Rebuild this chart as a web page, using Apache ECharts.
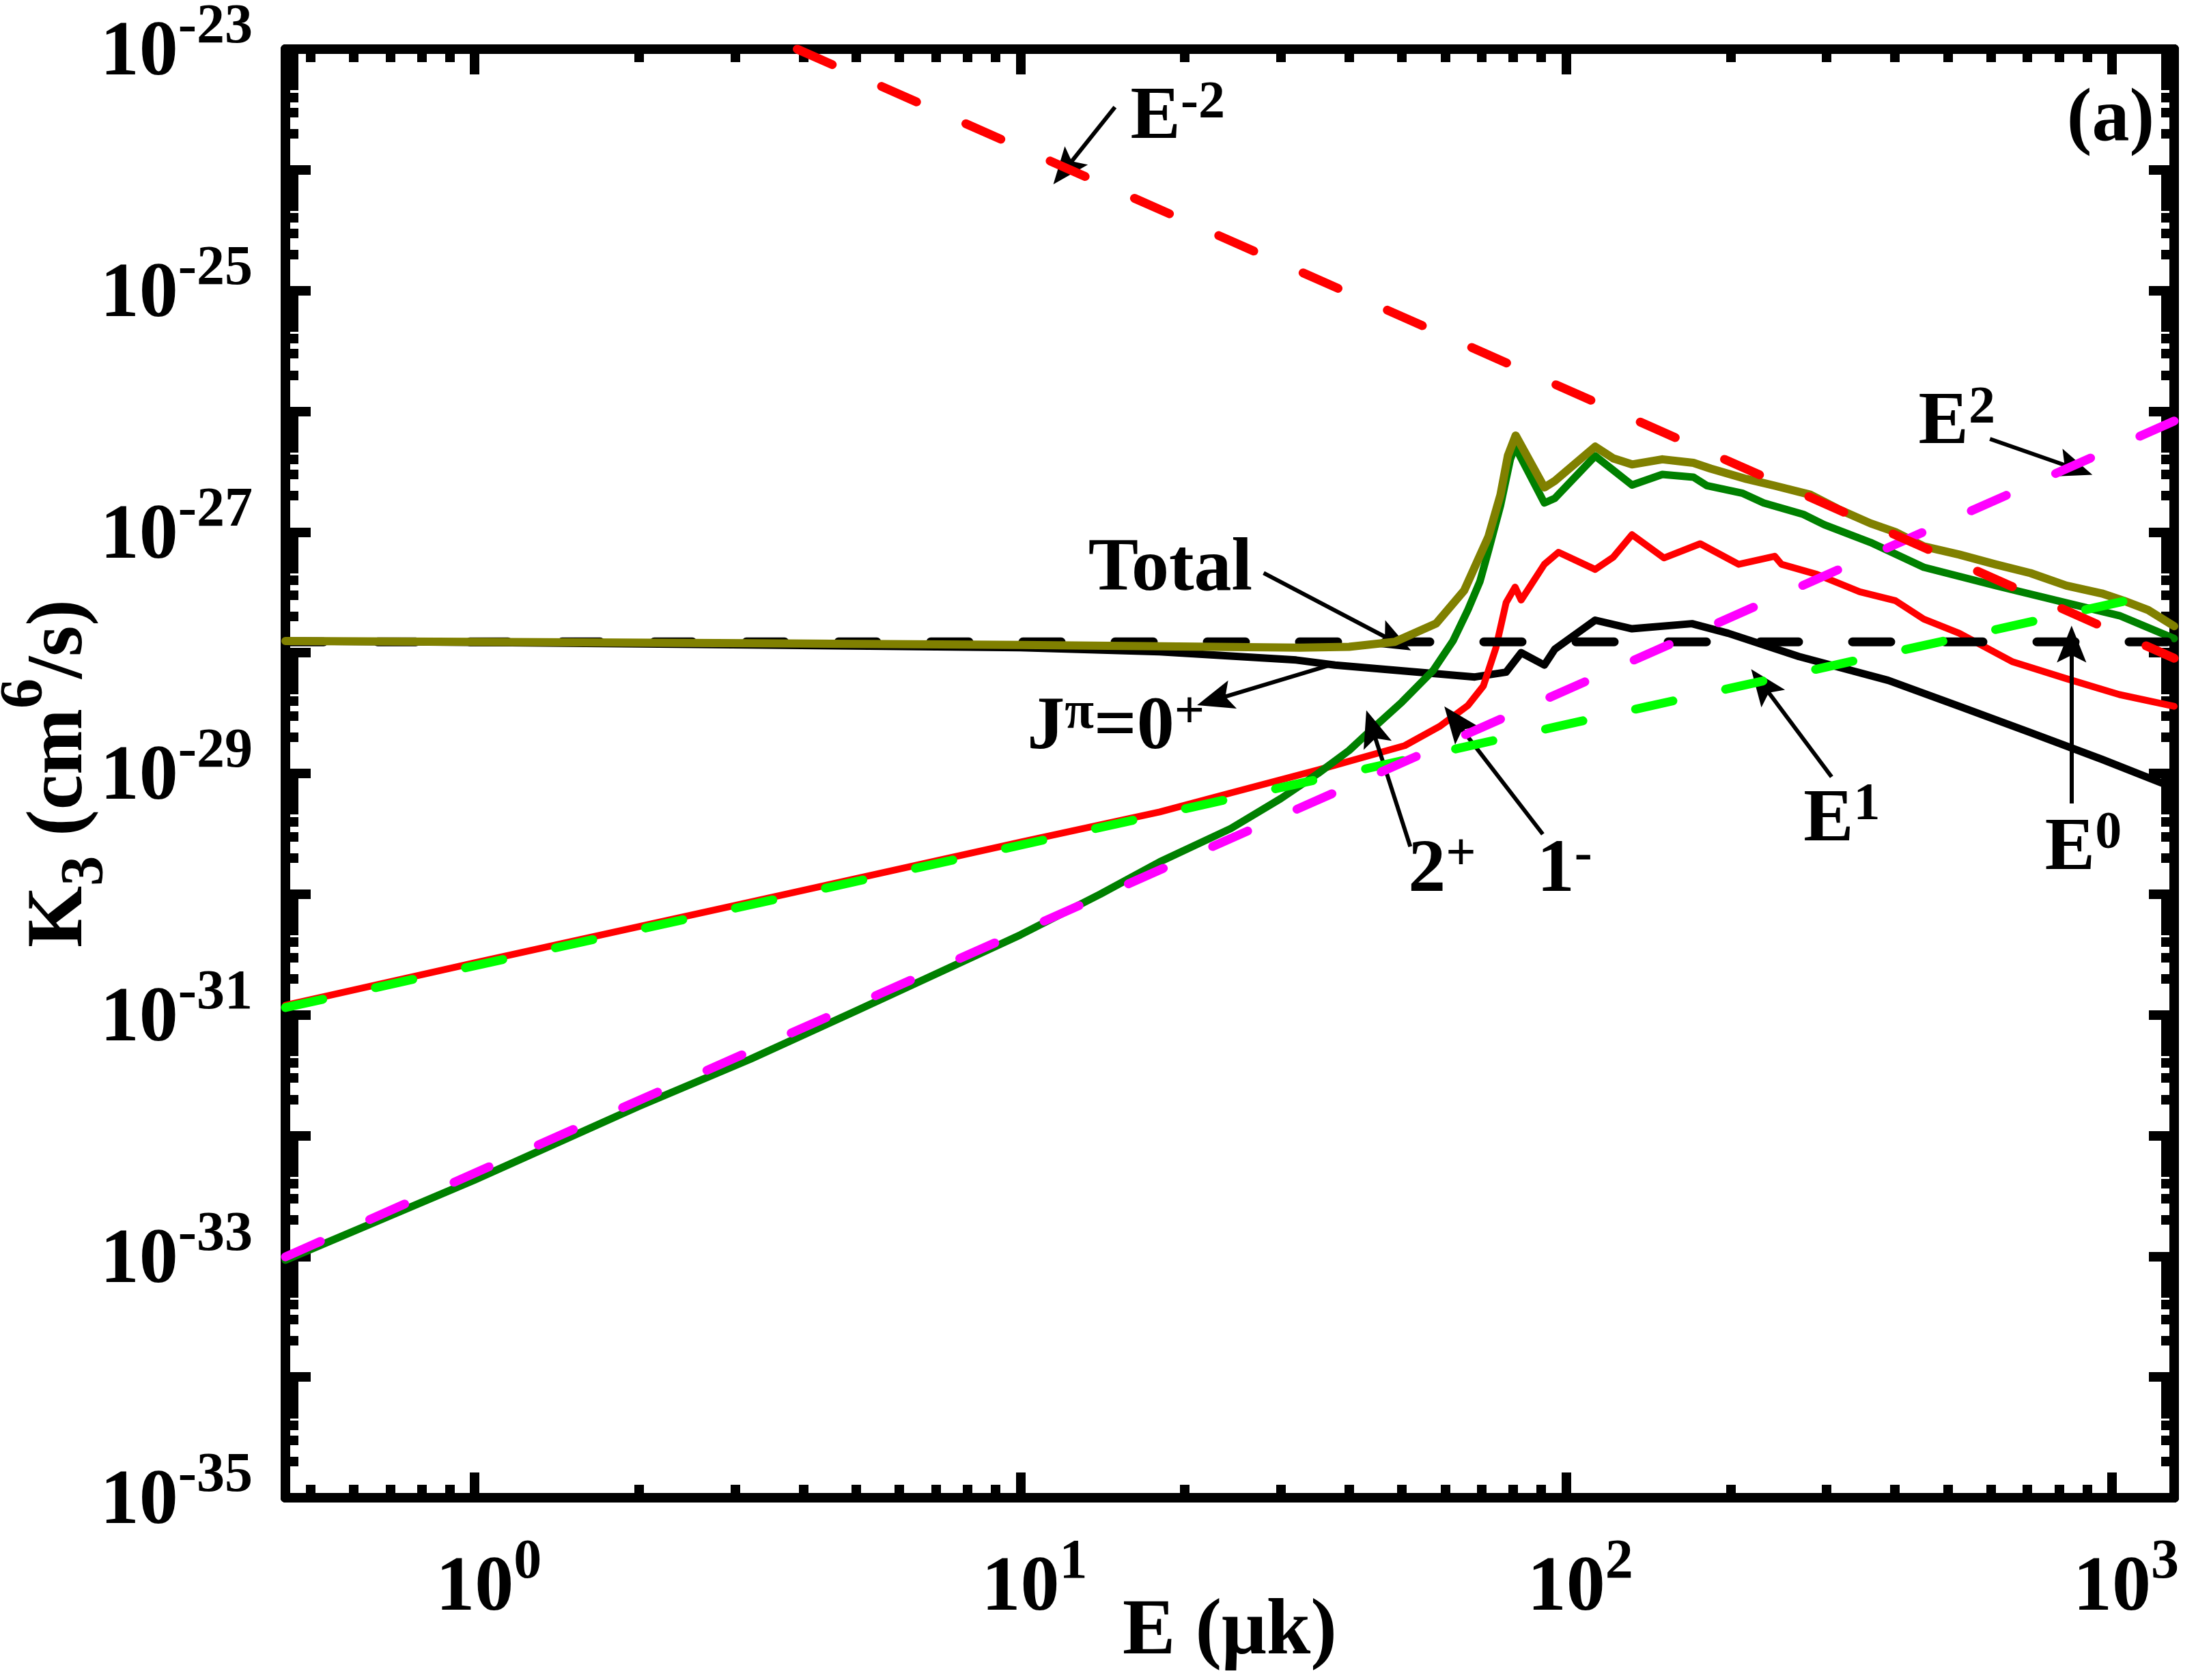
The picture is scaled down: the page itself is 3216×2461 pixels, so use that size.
<!DOCTYPE html>
<html>
<head>
<meta charset="utf-8">
<style>
  html, body { margin: 0; padding: 0; background: #fff; }
  #chart { width: 3216px; height: 2461px; }
</style>
</head>
<body>
<div id="chart"></div>
<script src="https://cdn.jsdelivr.net/npm/echarts@6/dist/echarts.min.js"></script>
<script>
// E in microkelvin, K3 in cm^6/s
const total = [
  [0.45, 1.25e-28], [1, 1.23e-28], [3.2, 1.2e-28], [10, 1.16e-28], [18, 1.13e-28],
  [32.5, 1.1e-28], [40, 1.12e-28], [48.5, 1.23e-28], [57.8, 1.75e-28], [65, 3.27e-28],
  [72, 9.1e-28], [75.8, 2.04e-27], [78.2, 4.3e-27], [80.8, 6.3e-27], [91.2, 2.34e-27],
  [95.3, 2.65e-27], [113, 5.1e-27], [122, 4.07e-27], [132, 3.63e-27], [150, 4.0e-27],
  [171, 3.74e-27], [184, 3.35e-27], [214, 2.75e-27], [241, 2.42e-27], [280, 2.04e-27],
  [315, 1.55e-27], [361, 1.18e-27], [401, 1.0e-27], [452, 7.6e-28], [525, 6.5e-28],
  [611, 5.4e-28], [709, 4.57e-28], [825, 3.6e-28], [958, 3.1e-28], [1050, 2.7e-28],
  [1165, 2.26e-28], [1300, 1.66e-28]
];
const j0plus = [
  [0.45, 1.25e-28], [1, 1.22e-28], [3.2, 1.16e-28], [10, 1.1e-28], [18, 1.02e-28],
  [32, 8.7e-29], [37.7, 7.9e-29], [68, 6.3e-29], [77.6, 6.9e-29], [82.7, 1.0e-28],
  [91.2, 7.9e-29], [95.3, 1.07e-28], [113, 1.86e-28], [132, 1.58e-28], [170, 1.74e-28],
  [198, 1.45e-28], [267, 9.3e-29], [389, 5.9e-29], [525, 3.6e-29], [709, 2.18e-29],
  [958, 1.31e-29], [1300, 7.6e-30]
];
const j1minus = [
  [0.45, 1.2e-31], [1, 2.7e-31], [3.2, 8.6e-31], [10, 2.7e-30], [18, 4.8e-30],
  [24.3, 6.9e-30], [35.1, 1.07e-29], [50.6, 1.7e-29], [58.6, 2.45e-29], [66.1, 3.67e-29],
  [70.5, 5.3e-29], [74.3, 1.09e-28], [77.6, 2.6e-28], [80.6, 3.5e-28], [82.7, 2.73e-28],
  [91.2, 5.4e-28], [96.8, 6.8e-28], [113, 4.9e-28], [122, 6.2e-28], [132, 9.5e-28],
  [151, 6.1e-28], [176, 8.0e-28], [207, 5.4e-28], [241, 6.3e-28], [248, 5.4e-28],
  [288, 4.46e-28], [345, 3.2e-28], [401, 2.7e-28], [452, 1.9e-28], [525, 1.45e-28],
  [658, 8.4e-29], [825, 6.1e-29], [1032, 4.5e-29], [1300, 3.6e-29]
];
const j2plus = [
  [0.45, 9.3e-34], [1, 4.3e-33], [2, 1.75e-32], [3.2, 4.3e-32], [5, 1.08e-31],
  [10, 4.6e-31], [14, 1.0e-30], [18, 1.85e-30], [24.3, 3.5e-30], [30, 6.2e-30],
  [35.1, 1.0e-29], [40, 1.55e-29], [44.4, 2.4e-29], [50, 3.9e-29], [57, 7.1e-29],
  [62, 1.25e-28], [66.1, 2.28e-28], [69.5, 3.9e-28], [72.1, 7.1e-28], [75.8, 1.66e-27],
  [79, 4.0e-27], [80.6, 5.1e-27], [91.2, 1.74e-27], [95.3, 1.9e-27], [113, 4.27e-27],
  [132, 2.45e-27], [150, 3.0e-27], [171, 2.85e-27], [181, 2.42e-27], [210, 2.1e-27],
  [230, 1.74e-27], [272, 1.4e-27], [297, 1.15e-27], [361, 8.2e-28], [452, 5.1e-28],
  [611, 3.6e-28], [825, 2.59e-28], [1032, 2.03e-28], [1300, 1.31e-28]
];
// power-law guides
const lawE0 = [[0.45, 1.23e-28], [1300, 1.23e-28]];
const lawE1 = [[0.45, 1.15e-31], [1300, 3.3e-28]];
const lawE2 = [[0.45, 9.9e-34], [1300, 8.3e-27]];
const lawEm2 = [[3.9, 1e-23], [1300, 9.0e-29]];

// axis ticks (y is drawn on the decade exponent)
const xMajor = [1, 10, 100, 1000];
const mantissa = [2, 3, 4, 5, 6, 7, 8, 9];
const xDecades = [0.1, 1, 10, 100];
const yDecades = [-35, -34, -33, -32, -31, -30, -29, -28, -27, -26, -25, -24, -23];
const yLabelled = [-35, -33, -31, -29, -27, -25, -23];

// annotations: text, anchor [E, K], side
const notes = [
  ['{n|E}{p|-2}', [15.91, 2.65e-24], 'right'],
  ['{n|E}{p|2}', [442, 7.86e-27], 'right'],
  ['{n|E}{p|1}', [272.1, 4.03e-30], 'right'],
  ['{n|E}{p|0}', [753.9, 2.34e-30], 'right'],
  ['{n|Total}', [13.31, 4.83e-28], 'right'],
  ['{n|J}{p|π}{n|=0}{p|+}', [10.29, 2.33e-29], 'right'],
  ['{n|2}{p|+}', [51.35, 1.54e-30], 'right'],
  ['{n|1}{p|-}', [88.35, 1.54e-30], 'right'],
  ['{n|(a)}', [1196, 2.55e-24], 'left']
];
// arrows: tail, head
const arrows = [
  [[14.9, 3.31e-24], [12.06, 1.0e-24]],
  [[597.6, 5.9e-27], [855.7, 3.35e-27]],
  [[27.9, 4.58e-28], [48.5, 1.23e-28]],
  [[37.7, 8.13e-29], [22.7, 4.07e-29]],
  [[51.8, 2.48e-30], [44.07, 2.39e-29]],
  [[90.6, 3.14e-30], [62.7, 2.72e-29]],
  [[306.4, 9.37e-30], [228.6, 5.52e-29]],
  [[843.4, 5.64e-30], [843.4, 1.18e-28]]
];

const FONT = '"Liberation Serif", "Times New Roman", serif';
const txt = (size, lh, va, color) => ({
  fontFamily: FONT, fontWeight: 'bold', fontSize: size, lineHeight: lh,
  verticalAlign: va, color: color || '#000'
});
const lg = k => Math.log10(k);
const toLg = pts => pts.map(p => [p[0], lg(p[1])]);

const xMinor = [];
xDecades.forEach(d => mantissa.forEach(m => {
  const v = +(m * d).toPrecision(3);
  if (v >= 0.45 && v <= 1300) xMinor.push(v);
}));
const yMinor = [];
yDecades.slice(0, -1).forEach(e => mantissa.forEach(m => yMinor.push(e + Math.log10(m))));

const tickRich = {
  base: txt(114, 160, 'middle'),
  sup: txt(82, 82, 'top'),
  ghost: txt(82, 82, 'top', 'rgba(0,0,0,0)')
};

const LINE_W = 14;
function xAxisDef(pos, major) {
  const shown = major && pos === 'bottom';
  return {
    type: 'log', logBase: 10, position: pos, min: 0.45, max: 1300,
    axisLine: { show: true, onZero: false, lineStyle: { color: '#000', width: LINE_W } },
    axisTick: {
      show: true, inside: true, length: major ? 37 : 19,
      lineStyle: { color: '#000', width: 14 },
      customValues: major ? xMajor : xMinor
    },
    axisLabel: {
      show: shown, margin: 55,
      customValues: xMajor,
      formatter: v => {
        const e = Math.round(Math.log10(v));
        return '{ghost|' + e + '}{base|10}{sup|' + e + '}';
      },
      rich: tickRich
    },
    splitLine: { show: false },
    minorTick: { show: false },
    name: shown ? 'E (μk)' : '',
    nameLocation: 'middle', nameGap: 140, nameMoveOverlap: false,
    nameTextStyle: { fontFamily: FONT, fontWeight: 'bold', fontSize: 116, lineHeight: 116, color: '#000' }
  };
}
function yAxisDef(pos, major) {
  const shown = major && pos === 'left';
  return {
    type: 'value', position: pos, min: -35, max: -23,
    axisLine: { show: true, onZero: false, lineStyle: { color: '#000', width: LINE_W } },
    axisTick: {
      show: true, inside: true, length: major ? 37 : 19,
      lineStyle: { color: '#000', width: 14 },
      customValues: major ? yDecades : yMinor
    },
    axisLabel: {
      show: shown, margin: 48, padding: [16, 0, 0, 0],
      customValues: yLabelled,
      formatter: v => '{base|10}{sup|' + Math.round(v) + '}',
      rich: tickRich
    },
    splitLine: { show: false },
    minorTick: { show: false },
    name: shown ? '{k|K}{sb|3}{k| (cm}{sp|6}{k|/s)}' : '',
    nameLocation: 'middle', nameGap: 232, nameMoveOverlap: false,
    nameTextStyle: {
      rich: {
        k: txt(116, 193, 'middle'),
        sp: txt(88, 88, 'top'),
        sb: Object.assign(txt(88, 88, 'bottom'), { padding: [0, 0, 16, 0] })
      }
    }
  };
}

const solid = (name, data, color, width, z) => ({
  name, type: 'line', data: toLg(data), z, symbol: 'none', showSymbol: false, silent: true,
  lineStyle: { color, width, cap: 'round', join: 'round' }
});
const dashed = (name, data, color, z) => ({
  name, type: 'line', data: toLg(data), z, symbol: 'none', showSymbol: false, silent: true,
  lineStyle: { color, width: 13, type: [56, 79], cap: 'round' }
});

const noteRich = { n: txt(110, 123, 'middle'), p: txt(78, 78, 'top') };
const HEAD = 'path://M0,0 L20,50 L0,40 L-20,50 Z';

const chart = echarts.init(document.getElementById('chart'));
chart.setOption({
  animation: false,
  backgroundColor: '#fff',
  grid: { left: 418, right: 32, top: 72, bottom: 267, containLabel: false, outerBoundsMode: 'none' },
  xAxis: [xAxisDef('bottom', true), xAxisDef('bottom', false), xAxisDef('top', true), xAxisDef('top', false)],
  yAxis: [yAxisDef('left', true), yAxisDef('left', false), yAxisDef('right', true), yAxisDef('right', false)],
  series: [
    solid('J=0+', j0plus, '#000000', 11, 2),
    solid('1-', j1minus, '#ff0000', 10, 3),
    solid('2+', j2plus, '#008000', 11, 4),
    dashed('E^0', lawE0, '#000000', 5),
    solid('Total', total, '#808000', 12, 6),
    dashed('E^1', lawE1, '#00ff00', 7),
    dashed('E^2', lawE2, '#ff00ff', 8),
    dashed('E^-2', lawEm2, '#ff0000', 9),
    {
      name: 'notes', type: 'line', data: [], z: 10, silent: true,
      markPoint: {
        symbol: 'circle', symbolSize: 0, silent: true, animation: false,
        label: { show: true, distance: 0, rich: noteRich },
        data: notes.map(n => ({
          coord: [n[1][0], lg(n[1][1])],
          label: { position: n[2], formatter: () => n[0] }
        }))
      },
      markLine: {
        silent: true, animation: false,
        symbol: ['none', HEAD],
        symbolSize: 54,
        symbolKeepAspect: true,
        lineStyle: { color: '#000', width: 6, type: 'solid', opacity: 1 },
        itemStyle: { color: '#000' },
        label: { show: false },
        emphasis: { disabled: true },
        data: arrows.map(a => [
          { coord: [a[0][0], lg(a[0][1])] },
          { coord: [a[1][0], lg(a[1][1])] }
        ])
      }
    }
  ]
});
</script>
</body>
</html>
